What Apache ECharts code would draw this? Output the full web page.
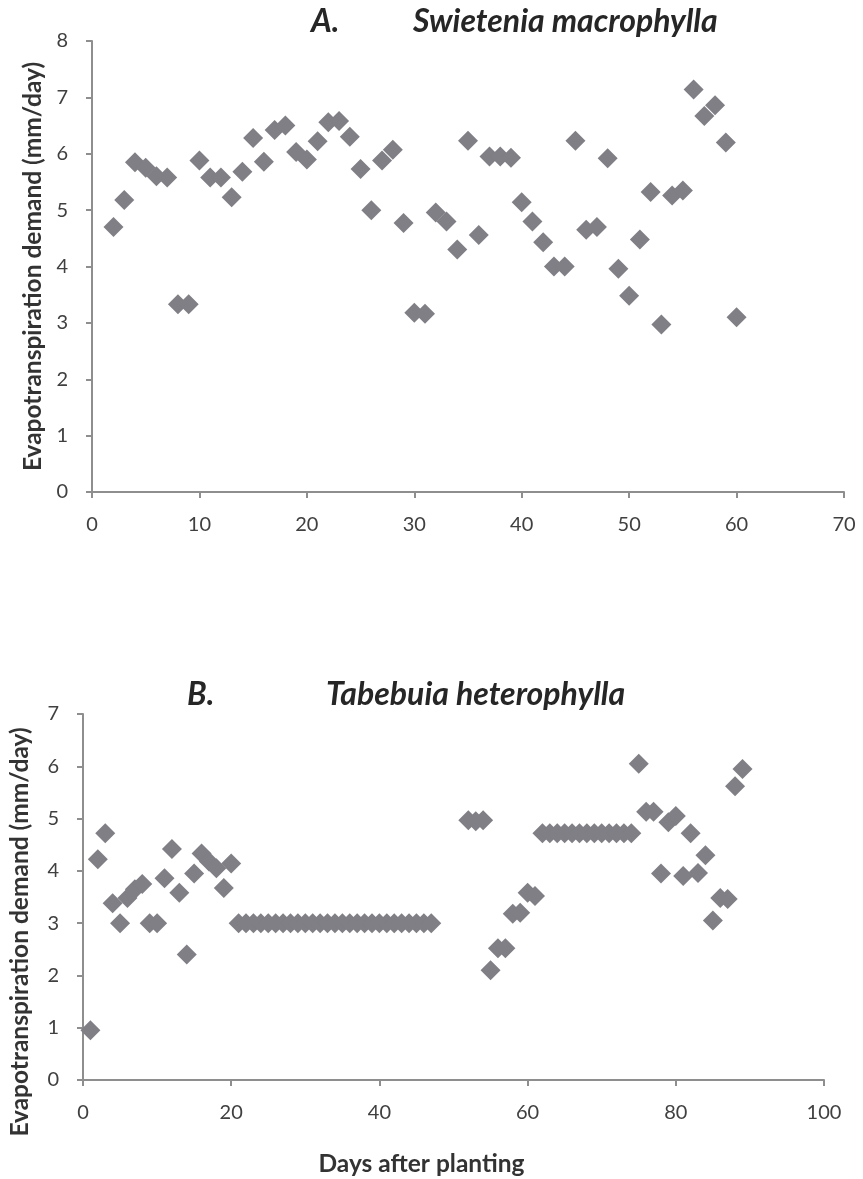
<!DOCTYPE html>
<html>
<head>
<meta charset="utf-8">
<script src="https://cdn.jsdelivr.net/npm/echarts@6/dist/echarts.min.js"></script>
<style>
  html, body { margin: 0; padding: 0; background: #fff; }
  #chart { width: 863px; height: 1179px; }
</style>
</head>
<body>
<div id="chart"></div>
<script>
// A. Swietenia macrophylla
const daysA = [2, 3, 4, 5, 6, 7, 8, 9, 10, 11, 12, 13, 14, 15, 16, 17, 18, 19, 20, 21,
  22, 23, 24, 25, 26, 27, 28, 29, 30, 31, 32, 33, 34, 35, 36, 37, 38, 39, 40, 41,
  42, 43, 44, 45, 46, 47, 48, 49, 50, 51, 52, 53, 54, 55, 56, 57, 58, 59, 60]
const demandA = [4.7, 5.18, 5.85, 5.75, 5.6, 5.58, 3.33, 3.33, 5.88, 5.58, 5.58, 5.23, 5.68, 6.28, 5.86, 6.42, 6.5, 6.03, 5.9, 6.22,
  6.56, 6.58, 6.3, 5.73, 5.0, 5.88, 6.07, 4.77, 3.18, 3.16, 4.96, 4.8, 4.3, 6.23, 4.56, 5.95, 5.95, 5.93, 5.14, 4.8,
  4.43, 4.0, 4.0, 6.23, 4.65, 4.7, 5.92, 3.96, 3.48, 4.48, 5.32, 2.97, 5.26, 5.35, 7.14, 6.67, 6.86, 6.2, 3.1]

// B. Tabebuia heterophylla
const daysB = [1, 2, 3, 4, 5, 6, 7, 8, 9, 10, 11, 12, 13, 14, 15, 16, 17, 18, 19, 20,
  21, 22, 23, 24, 25, 26, 27, 28, 29, 30, 31, 32, 33, 34, 35, 36, 37, 38, 39, 40,
  41, 42, 43, 44, 45, 46, 47,
  52, 53, 54, 55, 56, 57, 58, 59, 60, 61,
  62, 63, 64, 65, 66, 67, 68, 69, 70, 71, 72, 73, 74,
  75, 76, 77, 78, 79, 80, 81, 82, 83, 84, 85, 86, 87, 88, 89]
const demandB = [0.95, 4.22, 4.72, 3.38, 3.0, 3.48, 3.65, 3.75, 3.0, 3.0, 3.86, 4.42, 3.58, 2.4, 3.95, 4.33, 4.18, 4.05, 3.67, 4.14,
  3.0, 3.0, 3.0, 3.0, 3.0, 3.0, 3.0, 3.0, 3.0, 3.0, 3.0, 3.0, 3.0, 3.0, 3.0, 3.0, 3.0, 3.0, 3.0, 3.0,
  3.0, 3.0, 3.0, 3.0, 3.0, 3.0, 3.0,
  4.97, 4.95, 4.97, 2.1, 2.52, 2.52, 3.18, 3.2, 3.58, 3.52,
  4.72, 4.72, 4.72, 4.72, 4.72, 4.72, 4.72, 4.72, 4.72, 4.72, 4.72, 4.72, 4.72,
  6.05, 5.13, 5.13, 3.95, 4.93, 5.05, 3.9, 4.72, 3.96, 4.3, 3.05, 3.48, 3.46, 5.62, 5.95]

const titleA = ['A.', 'Swietenia macrophylla']
const titleB = ['B.', 'Tabebuia heterophylla']
const yName = 'Evapotranspiration demand (mm/day)'
const xName = 'Days after planting'

const FONT = 'Lato, "Open Sans", sans-serif'
const TEXT = '#404040'
const AXIS = '#8e8e8e'
const MARK = '#7f7f85'

function toPoints (xs, ys) {
  return xs.map((x, i) => [x, ys[i]])
}

function axisStyle (labelMargin) {
  return {
    axisLine: { show: true, lineStyle: { color: AXIS, width: 2 } },
    axisTick: { show: true, inside: false, length: 6, lineStyle: { color: AXIS, width: 2 } },
    axisLabel: { color: TEXT, fontSize: 20, fontFamily: FONT, margin: labelMargin },
    splitLine: { show: false }
  }
}

const nameStyle = { color: '#333', fontSize: 24.5, fontWeight: 'bold', fontFamily: FONT }
const titleStyle = { color: '#262626', fontSize: 32, fontWeight: 'bold', fontStyle: 'italic', fontFamily: FONT }

const option = {
  animation: false,
  backgroundColor: '#fff',
  title: [
    { text: titleA[0], left: 306, top: 1, textStyle: titleStyle },
    { text: titleA[1], left: 408, top: 1, textStyle: titleStyle },
    { text: titleB[0], left: 182, top: 674, textStyle: titleStyle },
    { text: titleB[1], left: 321, top: 674, textStyle: titleStyle }
  ],
  grid: [
    { left: 92, right: 19, top: 41, bottom: 687 },
    { left: 77, right: 39, top: 714, bottom: 99 }
  ],
  xAxis: [
    Object.assign(axisStyle(23), { gridIndex: 0, type: 'value', min: 0, max: 70, interval: 10 }),
    Object.assign(axisStyle(23), {
      gridIndex: 1, type: 'value', min: 0, max: 100, interval: 20,
      name: xName, nameLocation: 'middle', nameGap: 72,
      // title sits a bit left of the plot centre in the original
      nameTextStyle: Object.assign({}, nameStyle, { padding: [0, 64, 0, 0] })
    })
  ],
  yAxis: [
    Object.assign(axisStyle(24), {
      gridIndex: 0, type: 'value', min: 0, max: 8, interval: 1,
      name: yName, nameLocation: 'middle', nameGap: 45,
      nameTextStyle: nameStyle
    }),
    Object.assign(axisStyle(24), {
      gridIndex: 1, type: 'value', min: 0, max: 7, interval: 1,
      name: yName, nameLocation: 'middle', nameGap: 50,
      // shifted down, as in the original
      nameTextStyle: Object.assign({}, nameStyle, { padding: [0, 70, 0, 0] })
    })
  ],
  series: [
    {
      type: 'scatter',
      xAxisIndex: 0,
      yAxisIndex: 0,
      symbol: 'diamond',
      symbolSize: 20,
      itemStyle: { color: MARK, opacity: 1 },
      data: toPoints(daysA, demandA)
    },
    {
      type: 'scatter',
      xAxisIndex: 1,
      yAxisIndex: 1,
      symbol: 'diamond',
      symbolSize: 20,
      itemStyle: { color: MARK, opacity: 1 },
      data: toPoints(daysB, demandB)
    }
  ]
}

const myChart = echarts.init(document.getElementById('chart'), null, { renderer: 'canvas' })
myChart.setOption(option)
</script>
</body>
</html>
